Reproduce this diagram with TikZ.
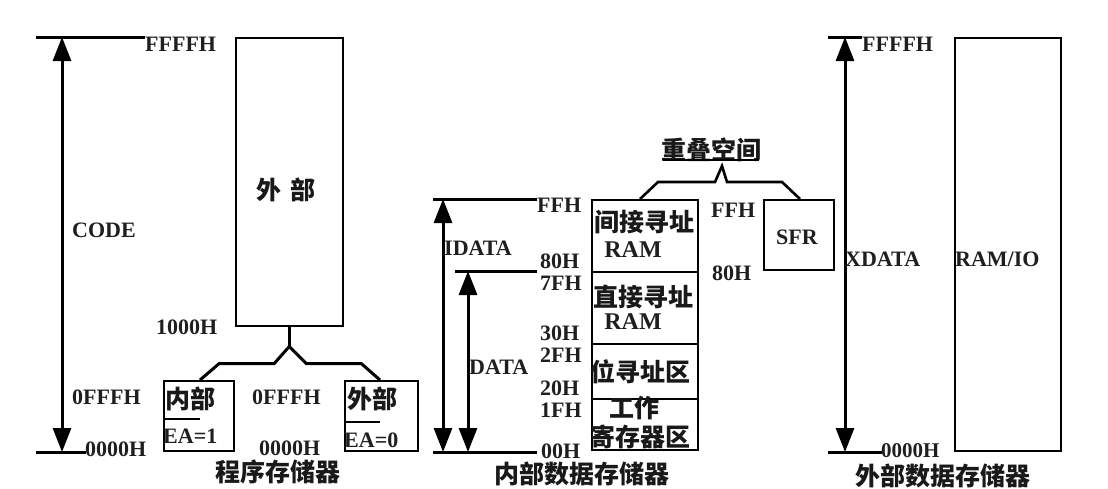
\documentclass[tikz,border=0pt]{standalone}
\usepackage{fontspec}
\setmainfont{Liberation Serif}
\newfontfamily\cjk{Noto Sans CJK SC}
\usetikzlibrary{arrows.meta,calc}
\begin{document}
\begin{tikzpicture}[x=1pt,y=-1pt,
  lat/.style={inner sep=0pt, font=\bfseries\fontsize{22}{22}\selectfont, text=black!88},
  han/.style={inner sep=0pt, font=\cjk\bfseries\fontsize{25}{25}\selectfont, text=black!90},
  rbox/.style={draw, line width=1.5pt, inner sep=0pt, anchor=north west},
  tick/.style={line width=3pt},
  dim/.style={line width=3pt, {Triangle[width=18pt,length=24pt]}-{Triangle[width=18pt,length=24pt]}},
  branch/.style={line width=3pt},
]
\useasboundingbox[fill=white] (0,0) rectangle (1108,488);

%% ---------------- program memory ----------------
\coordinate (cT) at (62,37);
\coordinate (cB) at (62,452);
\coordinate (cTl) at (36,37);
\coordinate (cTr) at (145,37);
\coordinate (cBl) at (36,452);
\coordinate (cBr) at (86,452);
\draw[tick] (cTl) -- (cTr);
\draw[tick] (cBl) -- (cBr);
\draw[dim] (cT) -- (cB);
\node[lat, anchor=west] (cffff) at (145,44) {FFFFH};
\node[lat, anchor=west] (c0000) at (85,449) {0000H};
\node[lat, anchor=west] (code) at (72,230) {CODE};

\node[rbox, minimum width=107pt, minimum height=288pt] (ext) at (235,37) {};
\node[han] (exttxt) at (286,190) {外\,\,部};
\node[lat, anchor=west] (k1000) at (156,327) {1000H};

\node[rbox, minimum width=70pt, minimum height=70pt] (inb) at (163,380) {};
\node[rbox, minimum width=73pt, minimum height=70pt] (exb) at (344,380) {};
\node[han, anchor=west] (inbt) at (165,399) {内部};
\node[lat, anchor=west] (ea1) at (163,436) {EA=1};
\draw[line width=2pt] ($(inb.north west)+(0,39)$) -- ($(inb.north west)+(37,39)$);
\node[han, anchor=west] (exbt) at (347,399) {外部};
\node[lat, anchor=west] (ea0) at (344,440) {EA=0};
\draw[line width=2pt] ($(exb.north west)+(0,42)$) -- ($(exb.north west)+(36,42)$);

\coordinate (fork) at ($(ext.south)+(0,20)$);
\draw[branch] (ext.south) -- (fork);
\draw[branch] (fork) -- ++(-15,17) -- ++(-55,0) -- ($(inb.north west)+(37,0)$);
\draw[branch] (fork) -- ++(17,17) -- ++(55,0) -- ($(exb.north west)+(36,0)$);

\node[lat, anchor=west] (f0a) at (72,397) {0FFFH};
\node[lat, anchor=west] (f0b) at (252,397) {0FFFH};
\node[lat, anchor=west] (z0b) at (259,448) {0000H};
\node[han] (t1) at (278,472) {程序存储器};

%% ---------------- internal data memory ----------------
\coordinate (iT) at (443,199);
\coordinate (iB) at (443,452);
\coordinate (dT) at (468,271);
\coordinate (dB) at (468,452);
\draw[tick] (433,199) coordinate (l1a) -- (537,199) coordinate (l1b);
\draw[tick] (455,271) coordinate (l2a) -- (537,271) coordinate (l2b);
\draw[tick] (433,452) coordinate (l3a) -- (537,452) coordinate (l3b);
\draw[dim] (iT) -- (iB);
\draw[dim] (dT) -- (dB);
\node[lat, anchor=west] (idata) at (444,248) {IDATA};
\node[lat, anchor=west] (data) at (469,367) {DATA};

\node[lat, anchor=west] (hff) at (537,205) {FFH};
\node[lat, anchor=west] (h80) at (540,261) {80H};
\node[lat, anchor=west] (h7f) at (540,283) {7FH};
\node[lat, anchor=west] (h30) at (540,333) {30H};
\node[lat, anchor=west] (h2f) at (540,355) {2FH};
\node[lat, anchor=west] (h20) at (540,388) {20H};
\node[lat, anchor=west] (h1f) at (540,410) {1FH};
\node[lat, anchor=west] (h00) at (541,451) {00H};

\node[rbox, minimum width=106pt, minimum height=72pt] (s1) at (591,199) {};
\node[rbox, minimum width=106pt, minimum height=72pt] (s2) at (591,271) {};
\node[rbox, minimum width=106pt, minimum height=55pt] (s3) at (591,343) {};
\node[rbox, minimum width=106pt, minimum height=51pt] (s4) at (591,398) {};
\node[han] (s1a) at (644,222) {间接寻址};
\node[lat, font=\bfseries\fontsize{24}{24}\selectfont] (s1b) at (633,250) {RAM};
\node[han] (s2a) at (643,297) {直接寻址};
\node[lat, font=\bfseries\fontsize{24}{24}\selectfont] (s2b) at (633,322) {RAM};
\node[han] (s3a) at (640,372) {位寻址区};
\node[han] (s4a) at (634,408) {工作};
\node[han] (s4b) at (640,437) {寄存器区};

\node[lat, anchor=west] (rff) at (711,210) {FFH};
\node[lat, anchor=west] (r80) at (712,273) {80H};
\node[rbox, minimum width=70pt, minimum height=70pt] (sfr) at (763,199) {};
\node[lat] (sfrt) at (797,237) {SFR};

\node[han] (ovl) at (711,150) {重叠空间};
\draw[line width=1.2pt] (663,160) -- (759,160);
\coordinate (peak) at (722,166);
\draw[branch, line width=2.6pt] ($(s1.north west)+(49,0)$) -- (658,182) -- (715,182) -- (peak) -- (727,182) -- (782,182) -- ($(sfr.north west)+(37,0)$);

\node[han] (t2) at (582,474) {内部数据存储器};

%% ---------------- external data memory ----------------
\coordinate (xT) at (845,37);
\coordinate (xB) at (845,452);
\draw[tick] (828,37) coordinate (x1a) -- (862,37) coordinate (x1b);
\draw[tick] (828,452) coordinate (x2a) -- (882,452) coordinate (x2b);
\draw[dim] (xT) -- (xB);
\node[lat, anchor=west] (xff) at (862,44) {FFFFH};
\node[lat, anchor=west, font=\bfseries\fontsize{21}{21}\selectfont] (x00) at (881,451) {0000H};
\node[lat, anchor=west] (xdata) at (845,259) {XDATA};
\node[rbox, minimum width=106pt, minimum height=413pt] (ramio) at (954,37) {};
\node[lat, anchor=west] (ramiot) at (955,259) {RAM/IO};
\node[han] (t3) at (943,476) {外部数据存储器};
\end{tikzpicture}
\end{document}
